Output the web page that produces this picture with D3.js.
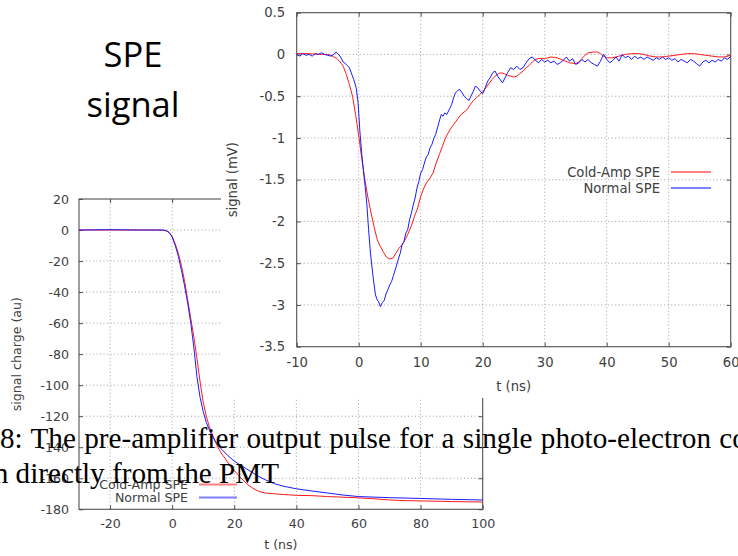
<!DOCTYPE html>
<html>
<head>
<meta charset="utf-8">
<script src="https://cdn.jsdelivr.net/npm/d3@7"></script>
<style>
  body { margin: 0; background: #fff; }
  svg { display: block; }
  .tick text { font-family: "DejaVu Sans", sans-serif; fill: #404040; }
  .axisText { font-family: "DejaVu Sans", sans-serif; fill: #404040; }
</style>
</head>
<body>
<div id="chart"></div>
<script>
// charge plot (bottom left): [t (ns), signal charge (au)]
var chargeCold = [[-30,0],[-20,0],[-10,0],[-5,0],[-3,-0.2],[-2,-0.5],[-1,-1.5],[0,-4],[1,-9],[2,-15],[3,-23],[4,-33],
  [5,-45],[6,-57],[7,-69],[8,-83],[9,-98],[10,-111],[11,-120],[12,-127],[13,-132],[14,-137],[15,-141],[16,-144.5],
  [17,-147],[18,-150],[19,-153],[20,-155],[22,-159.5],[24,-163.5],[26,-166.5],[28,-168.5],[30,-169.5],[33,-170],
  [36,-170.5],[40,-171],[45,-171.2],[50,-171.8],[55,-172.2],[60,-172.6],[65,-173.2],[70,-174],[75,-174.4],
  [80,-174.6],[85,-174.8],[90,-175],[95,-175.2],[100,-175.3]];
var chargeNormal = [[-30,0],[-20,0.2],[-10,0],[-5,0],[-3,0],[-2,-0.3],[-1,-1.5],[0,-4.5],[1,-10],[2,-17],[3,-26],
  [4,-36],[5,-47],[6,-60],[7,-76],[8,-95],[9,-108],[10,-117],[11,-124],[12,-129],[13,-133],[14,-136.5],[15,-139],
  [16,-141.5],[18,-145.5],[20,-149],[22,-151.5],[24,-154],[26,-156.5],[28,-159],[30,-161],[33,-163.5],[36,-165.2],
  [40,-166.8],[45,-168.2],[50,-169.5],[55,-170.8],[60,-171.8],[70,-172.5],[80,-173],[90,-173.6],[100,-174]];

// signal plot (top right): [t (ns), signal (mV)]
var signalCold = [[-10,0.01],[-8,0.01],[-6,0],[-5,0],[-4.5,-0.01],[-4,-0.03],[-3.5,-0.05],[-3,-0.09],[-2.5,-0.14],
  [-2,-0.24],[-1.5,-0.36],[-1,-0.5],[-0.5,-0.72],[0,-0.97],[0.5,-1.25],[1,-1.5],[1.5,-1.72],[2,-1.9],[2.5,-2.07],
  [3,-2.22],[3.5,-2.3],[4,-2.37],[4.5,-2.43],[5,-2.45],[5.5,-2.44],[6,-2.38],[6.5,-2.32],[7,-2.28],[7.5,-2.22],
  [8,-2.14],[8.5,-2.05],[9,-1.94],[9.5,-1.84],[10,-1.7],[10.5,-1.6],[11,-1.53],[11.5,-1.48],[12,-1.42],[12.5,-1.3],
  [13,-1.2],[13.5,-1.1],[14,-1.0],[14.5,-0.93],[15,-0.87],[15.5,-0.82],[16,-0.77],[16.5,-0.72],[17,-0.69],
  [17.5,-0.66],[18,-0.6],[18.5,-0.55],[19,-0.52],[19.5,-0.48],[20,-0.45],[20.5,-0.4],[21,-0.35],[21.5,-0.3],
  [22,-0.26],[22.5,-0.23],[23,-0.22],[23.5,-0.23],[24,-0.25],[24.5,-0.26],[25,-0.27],[25.5,-0.26],[26,-0.23],
  [26.5,-0.2],[27,-0.16],[27.5,-0.13],[28,-0.09],[28.5,-0.06],[29,-0.05],[30,-0.05],[31,-0.03],[32,-0.04],
  [33,-0.07],[34,-0.1],[35,-0.11],[35.5,-0.09],[36,-0.05],[36.5,-0.01],[37,0.02],[38,0.03],[38.5,0.03],[39,0.01],
  [39.5,-0.02],[40,-0.04],[41,-0.04],[42,-0.02],[43,0],[44,0.01],[45,0.01],[46,0],[47,-0.02],[48,-0.03],[49,-0.03],
  [50,-0.02],[51,-0.01],[52,0],[53,0.01],[54,0.01],[55,0],[56,-0.01],[57,-0.02],[58,-0.03],[59,-0.03],[60,-0.01]];
var signalNormal = [[-10,0],[-9.5,-0.02],[-9,0.01],[-8.5,-0.01],[-8,0],[-7.5,-0.02],[-7,0.01],[-6.5,0],[-6,0.02],
  [-5.5,0],[-5,-0.01],[-4.5,-0.02],[-4,0],[-3.7,0.03],[-3.3,0],[-3,-0.02],[-2.5,-0.09],[-2,-0.12],[-1.5,-0.16],
  [-1.2,-0.22],[-0.8,-0.3],[-0.4,-0.4],[-0.1,-0.58],[0.2,-0.93],[0.5,-1.2],[0.8,-1.42],[1,-1.55],[1.3,-1.78],
  [1.6,-2.1],[1.9,-2.38],[2.3,-2.65],[2.7,-2.88],[3,-2.94],[3.2,-2.96],[3.5,-3.02],[3.8,-2.97],[4.1,-2.95],
  [4.4,-2.87],[4.7,-2.82],[5,-2.76],[5.3,-2.72],[5.6,-2.65],[6,-2.55],[6.4,-2.45],[6.7,-2.38],[7,-2.28],[7.3,-2.24],
  [7.6,-2.14],[7.9,-2.1],[8.2,-1.98],[8.5,-1.9],[8.8,-1.8],[9.1,-1.72],[9.4,-1.6],[9.7,-1.52],[10,-1.42],
  [10.3,-1.38],[10.6,-1.3],[10.9,-1.23],[11.2,-1.2],[11.5,-1.12],[11.8,-1.08],[12.1,-1.01],[12.4,-0.96],
  [12.7,-0.88],[13,-0.8],[13.3,-0.72],[13.6,-0.74],[13.9,-0.7],[14.2,-0.72],[14.6,-0.66],[15,-0.6],[15.3,-0.52],
  [15.6,-0.46],[16,-0.43],[16.3,-0.42],[16.6,-0.45],[17,-0.5],[17.4,-0.53],[17.8,-0.55],[18.1,-0.5],[18.5,-0.44],
  [18.8,-0.38],[19.2,-0.4],[19.6,-0.44],[20,-0.47],[20.4,-0.4],[20.8,-0.32],[21.2,-0.28],[21.6,-0.22],[22,-0.2],
  [22.4,-0.26],[22.8,-0.3],[23.2,-0.34],[23.6,-0.28],[24,-0.22],[24.5,-0.16],[25,-0.18],[25.5,-0.14],[26,-0.18],
  [26.5,-0.16],[27,-0.1],[27.5,-0.05],[28,-0.03],[28.5,-0.07],[29,-0.1],[29.5,-0.06],[30,-0.09],[30.5,-0.07],
  [31,-0.1],[31.5,-0.08],[32,-0.12],[32.5,-0.1],[33,-0.07],[33.5,-0.03],[34,-0.08],[34.5,-0.05],[35,-0.12],
  [35.5,-0.1],[36,-0.06],[36.5,-0.09],[37,-0.06],[37.5,-0.1],[38,-0.12],[38.5,-0.14],[39,-0.08],[39.5,0],
  [40,-0.06],[40.5,-0.1],[41,-0.07],[41.5,-0.03],[42,-0.08],[42.5,0],[43,-0.04],[43.5,-0.02],[44,-0.06],
  [44.5,-0.02],[45,-0.05],[45.5,-0.03],[46,-0.06],[46.5,-0.03],[47,-0.05],[47.5,-0.07],[48,-0.04],[48.5,-0.06],
  [49,-0.03],[49.5,-0.06],[50,-0.04],[50.5,-0.07],[51,-0.05],[51.5,-0.09],[52,-0.06],[52.5,-0.08],[53,-0.1],
  [53.5,-0.06],[54,-0.08],[54.5,-0.11],[55,-0.14],[55.5,-0.09],[56,-0.07],[56.5,-0.1],[57,-0.07],[57.5,-0.09],
  [58,-0.06],[58.5,-0.08],[59,-0.04],[59.5,-0.06],[60,-0.02]];

var seriesNames = ["Cold-Amp SPE", "Normal SPE"];
var seriesColors = ["#ff1a1a", "#1a1aff"];
var legendColors = ["#ff8080", "#8080ff"];

var chargeXTicks = [-20, 0, 20, 40, 60, 80, 100];
var chargeYTicks = [20, 0, -20, -40, -60, -80, -100, -120, -140, -160, -180];
var signalXTicks = [-10, 0, 10, 20, 30, 40, 50, 60];
var signalYTicks = [0.5, 0, -0.5, -1, -1.5, -2, -2.5, -3, -3.5];

var titleLines = ["SPE", "signal"];
var captionLines = ["8: The pre-amplifier output pulse for a single photo-electron com", "n directly from the PMT"];

var svg = d3.select("#chart")
  .append("svg")
  .attr("width", 738)
  .attr("height", 556);

// draws one gnuplot-like panel
function drawPanel(g, opt) {
  var x = opt.x, y = opt.y;
  var x0 = x.range()[0], x1 = x.range()[1];
  var y0 = y.range()[0], y1 = y.range()[1];

  // dotted grid
  g.append("g").selectAll("line")
    .data(opt.xTicks.filter(d => d > x.domain()[0] && d < x.domain()[1]))
    .enter().append("line")
    .attr("x1", d => x(d)).attr("x2", d => x(d))
    .attr("y1", y0).attr("y2", y1)
    .attr("stroke", "#a0a0a0").attr("stroke-dasharray", "1,2.5");
  g.append("g").selectAll("line")
    .data(opt.yTicks.filter(d => d > y.domain()[0] && d < y.domain()[1]))
    .enter().append("line")
    .attr("x1", x0).attr("x2", x1)
    .attr("y1", d => y(d)).attr("y2", d => y(d))
    .attr("stroke", "#a0a0a0").attr("stroke-dasharray", "1,2.5");

  var fmt = d => String(d);
  var axes = [
    [d3.axisBottom(x).tickValues(opt.xTicks).tickSize(-4).tickPadding(opt.xPad).tickFormat(fmt), `translate(0,${y0})`],
    [d3.axisLeft(y).tickValues(opt.yTicks).tickSize(-4).tickPadding(opt.yPad).tickFormat(fmt), `translate(${x0},0)`],
    [d3.axisTop(x).tickValues(opt.xTicks).tickSize(-4).tickFormat(""), `translate(0,${y1})`],
    [d3.axisRight(y).tickValues(opt.yTicks).tickSize(-4).tickFormat(""), `translate(${x1},0)`]
  ];
  axes.forEach(function(a) {
    var ax = g.append("g").attr("transform", a[1]).call(a[0]);
    ax.select(".domain").remove();
    ax.selectAll(".tick line").attr("stroke", "#505050");
    ax.selectAll(".tick text").style("font-size", opt.fontSize + "px");
  });

  g.append("rect")
    .attr("x", x0).attr("y", y1)
    .attr("width", x1 - x0).attr("height", y0 - y1)
    .attr("fill", "none").attr("stroke", "#505050").attr("stroke-width", 1.1);

  var line = d3.line().x(d => x(d[0])).y(d => y(d[1]));
  opt.series.forEach(function(s, i) {
    g.append("path")
      .datum(s)
      .attr("d", line)
      .attr("fill", "none")
      .attr("stroke", seriesColors[i])
      .attr("stroke-width", 1);
  });

  // legend
  seriesNames.forEach(function(name, i) {
    var ly = opt.legendY + i * opt.legendStep;
    g.append("text")
      .attr("class", "axisText")
      .attr("x", opt.legendX)
      .attr("y", ly)
      .attr("dy", "0.35em")
      .attr("text-anchor", "end")
      .style("font-size", opt.fontSize + "px")
      .text(name);
    g.append("line")
      .attr("x1", opt.legendX + 11).attr("x2", opt.legendX + 11 + opt.legendLen)
      .attr("y1", ly).attr("y2", ly)
      .attr("stroke", legendColors[i]).attr("stroke-width", 1.8);
  });

  g.append("text")
    .attr("class", "axisText")
    .attr("x", (x0 + x1) / 2)
    .attr("y", opt.xLabelY)
    .attr("text-anchor", "middle")
    .style("font-size", opt.fontSize + "px")
    .text("t (ns)");

  g.append("text")
    .attr("class", "axisText")
    .attr("transform", `translate(${opt.yLabelX}, ${(y0 + y1) / 2}) rotate(-90)`)
    .attr("text-anchor", "middle")
    .style("font-size", opt.fontSize + "px")
    .text(opt.yLabel);
}

// bottom-left charge panel
var chargePanel = svg.append("g");
drawPanel(chargePanel, {
  x: d3.scaleLinear().domain([-30, 100]).range([79, 482.7]),
  y: d3.scaleLinear().domain([-180, 20]).range([509.3, 199]),
  xTicks: chargeXTicks, yTicks: chargeYTicks,
  xPad: 10, yPad: 10, fontSize: 12.6,
  series: [chargeCold, chargeNormal],
  legendX: 188, legendY: 484.5, legendStep: 13, legendLen: 38,
  xLabelY: 549, yLabelX: 21, yLabel: "signal charge (au)"
});

// top-right signal panel pasted over it
var signalPanel = svg.append("g");
signalPanel.append("rect")
  .attr("x", 221).attr("y", 0)
  .attr("width", 517).attr("height", 398)
  .attr("fill", "#fff");
drawPanel(signalPanel, {
  x: d3.scaleLinear().domain([-10, 60]).range([296.7, 730.7]),
  y: d3.scaleLinear().domain([-3.5, 0.5]).range([346.7, 12.7]),
  xTicks: signalXTicks, yTicks: signalYTicks,
  xPad: 11, yPad: 11.5, fontSize: 13.2,
  series: [signalCold, signalNormal],
  legendX: 660, legendY: 172, legendStep: 16, legendLen: 40,
  xLabelY: 391, yLabelX: 237, yLabel: "signal (mV)"
});

// slide title
svg.append("g").selectAll("text")
  .data(titleLines)
  .enter().append("text")
  .attr("x", 133)
  .attr("y", (d, i) => 67 + i * 50)
  .attr("text-anchor", "middle")
  .style("font-family", "'Open Sans', sans-serif")
  .style("font-size", "34.5px")
  .style("fill", "#000")
  .text(d => d);

// caption text lying over the plots
svg.append("text")
  .attr("x", 0).attr("y", 448)
  .style("font-family", "'Liberation Serif', serif")
  .style("font-size", "29.2px")
  .style("word-spacing", "1px")
  .text(captionLines[0]);
svg.append("text")
  .attr("x", 279).attr("y", 483)
  .attr("text-anchor", "end")
  .style("font-family", "'Liberation Serif', serif")
  .style("font-size", "29.2px")
  .text(captionLines[1]);
</script>
</body>
</html>
